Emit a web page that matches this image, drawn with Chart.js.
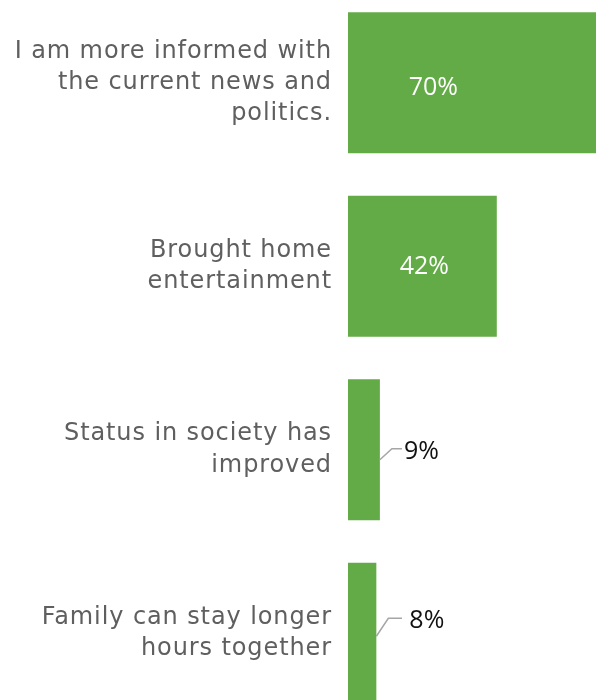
<!DOCTYPE html>
<html>
<head>
<meta charset="utf-8">
<script src="https://cdn.jsdelivr.net/npm/chart.js@4"></script>
<style>
  html, body { margin: 0; padding: 0; background: #fff; overflow: hidden; }
  #wrap { position: absolute; left: 0; top: -9px; width: 596px; height: 734px; }
</style>
</head>
<body>
<div id="wrap"><canvas id="grafico"></canvas></div>
<script>
// categorias y valores
const categorias = [
    ['I am more informed with', 'the current news and', 'politics.'],
    ['Brought home', 'entertainment'],
    ['Status in society has', 'improved'],
    ['Family can stay longer', 'hours together']
];
const valores = [70, 42, 9, 8];

// espaciado de letras para imitar la fuente ancha del original
const espaciado = {
    id: 'espaciado',
    beforeDraw(chart) { chart.ctx.letterSpacing = '0.9px'; },
    afterDraw(chart) { chart.ctx.letterSpacing = '0px'; }
};

// etiquetas de datos: dentro de la barra (blanco) o fuera con linea guia
const etiquetas = {
    id: 'etiquetas',
    afterDatasetsDraw(chart) {
        const ctx = chart.ctx;
        const meta = chart.getDatasetMeta(0);
        const x = chart.scales.x;
        ctx.save();
        ctx.letterSpacing = '0px';
        ctx.font = '25px "Open Sans"';
        ctx.textBaseline = 'middle';
        meta.data.forEach((bar, i) => {
            const v = valores[i];
            const txt = v + '%';
            if (v > 20) {
                ctx.fillStyle = '#ffffff';
                ctx.textAlign = 'center';
                const cx = x.getPixelForValue(Math.min(v, 47) / 2);
                ctx.fillText(txt, cx + 2, bar.y + (v > 60 ? 5 : 1));
            } else {
                const dy = i === 2 ? 10 : 3;
                const y0 = bar.y + dy;
                const y1 = y0 - (i === 2 ? 11 : 18);
                ctx.strokeStyle = '#a6a6a6';
                ctx.lineWidth = 1.5;
                ctx.beginPath();
                ctx.moveTo(bar.x, y0);
                ctx.lineTo(bar.x + 12, y1);
                ctx.lineTo(402, y1);
                ctx.stroke();
                ctx.fillStyle = '#111111';
                ctx.textAlign = 'left';
                ctx.fillText(txt, bar.x + (i === 2 ? 24 : 33), y1 + 3);
            }
        });
        ctx.restore();
    }
};

new Chart(document.getElementById('grafico'), {
    type: 'bar',
    data: {
        labels: categorias,
        datasets: [{
            data: valores,
            backgroundColor: '#63ab47',
            barPercentage: 0.768,
            categoryPercentage: 1
        }]
    },
    options: {
        indexAxis: 'y',
        responsive: true,
        maintainAspectRatio: false,
        animation: false,
        layout: { padding: 0 },
        plugins: {
            legend: { display: false },
            tooltip: { enabled: false }
        },
        scales: {
            x: { display: false, min: 0, max: 70 },
            y: {
                grid: { display: false, drawTicks: false },
                border: { display: false },
                ticks: {
                    color: '#5f5f5f',
                    padding: 16,
                    font: { family: 'DejaVu Sans', size: 24, lineHeight: 1.3 }
                },
                afterFit(scale) {
                    scale.width = 348;
                    scale.paddingTop = 0;
                    scale.paddingBottom = 0;
                }
            }
        }
    },
    plugins: [espaciado, etiquetas]
});
</script>
</body>
</html>
